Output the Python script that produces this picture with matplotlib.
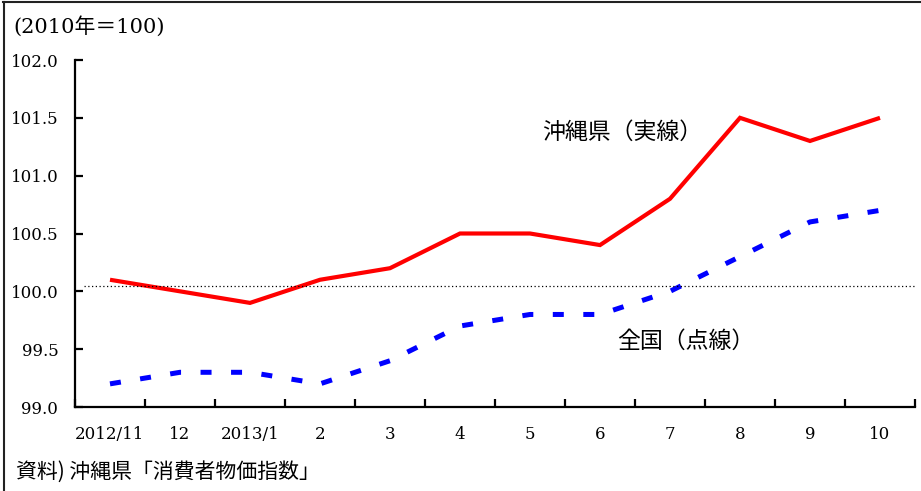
import matplotlib
matplotlib.use('Agg')
import matplotlib.pyplot as plt
from matplotlib.lines import Line2D
import numpy as np

months = ['2012/11', '12', '2013/1', '2', '3', '4', '5', '6', '7', '8', '9', '10']
okinawa = [100.1, 100.0, 99.9, 100.1, 100.2, 100.5, 100.5, 100.4, 100.8, 101.5, 101.3, 101.5]
national = [99.2, 99.3, 99.3, 99.2, 99.4, 99.7, 99.8, 99.8, 100.0, 100.3, 100.6, 100.7]
ref_level = 100.05
y_ticks = [99.0, 99.5, 100.0, 100.5, 101.0, 101.5, 102.0]

num_font = ['DejaVu Serif', 'Noto Sans CJK JP']
jp_font = ['Noto Sans CJK JP', 'DejaVu Sans']

fig = plt.figure(figsize=(9.21, 4.91), dpi=100)
ax = fig.add_axes([75 / 921, 1 - 407 / 491, 840 / 921, 347 / 491])

x = np.arange(len(months))
ax.plot(x, okinawa, color='#ff0000', linewidth=3, solid_capstyle='butt', solid_joinstyle='miter')
ax.plot(x, national, color='#0000ff', linewidth=3.6, linestyle=(0, (2.2, 3.9)),
        dash_capstyle='butt')
ax.axhline(ref_level, xmin=9 / 840, xmax=1, color='black', linewidth=0.9,
           linestyle=(0, (1, 2)))

ax.set_xlim(-0.5, len(months) - 0.5)
ax.set_ylim(99.0, 102.0)

for side in ['top', 'right']:
    ax.spines[side].set_visible(False)
for side in ['left', 'bottom']:
    ax.spines[side].set_linewidth(1.6)

# major x ticks sit between the months, labels on minor ticks at the centres
ax.set_xticks(np.arange(-0.5, len(months), 1.0))
ax.set_xticklabels([])
ax.set_xticks(x, minor=True)
ax.set_xticklabels(months, minor=True, family=num_font, fontsize=12)
ax.tick_params(axis='x', which='major', direction='in', length=6, width=1.6)
ax.tick_params(axis='x', which='minor', length=0, pad=14)

ax.set_yticks(y_ticks)
ax.set_yticklabels([f'{v:.1f}' for v in y_ticks], family=num_font, fontsize=12)
ax.tick_params(axis='y', direction='in', length=6, width=1.6, pad=12)

fig.text(13 / 921, 1 - 26 / 491, '(2010年＝100)', family=num_font, fontsize=15,
         va='center', ha='left')
fig.text(622 / 921, 1 - 132 / 491, '沖縄県（実線）', family=jp_font, fontsize=16.5,
         va='center', ha='center')
fig.text(686 / 921, 1 - 341 / 491, '全国（点線）', family=jp_font, fontsize=16.5,
         va='center', ha='center')
fig.text(16 / 921, 1 - 472 / 491, '資料) 沖縄県「消費者物価指数」', family=jp_font, fontsize=15,
         va='center', ha='left')

# frame lines at top and left of the picture
fig.add_artist(Line2D([3 / 921, 1], [1 - 1.5 / 491, 1 - 1.5 / 491], color='#222222', linewidth=1.5,
                      transform=fig.transFigure))
fig.add_artist(Line2D([3.5 / 921, 3.5 / 921], [0, 1 - 1.5 / 491], color='#222222', linewidth=1.5,
                      transform=fig.transFigure))

fig.savefig('out.png', dpi=100)
plt.close(fig)
